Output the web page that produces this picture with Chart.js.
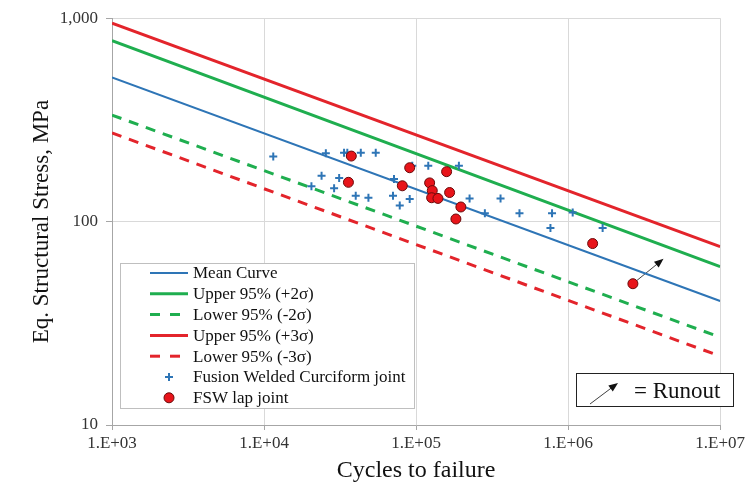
<!DOCTYPE html>
<html>
<head>
<meta charset="utf-8">
<script src="https://cdn.jsdelivr.net/npm/chart.js@4.4.0/dist/chart.umd.min.js"></script>
<style>
    html, body { margin: 0; padding: 0; background: #fff; }
</style>
</head>
<body>
<canvas id="snChart" width="748" height="487"></canvas>
<script>
// S-N data: cycles to failure vs. eq. structural stress (MPa)
var xTicks = [1e3, 1e4, 1e5, 1e6, 1e7];
var xTickLabels = ['1.E+03', '1.E+04', '1.E+05', '1.E+06', '1.E+07'];
var yTicks = [10, 100, 1000];
var yTickLabels = ['10', '100', '1,000'];

// design curves, values at N = 1E3 and N = 1E7
var curveCycles = [1e3, 1e7];
var meanCurve = [512, 40.7];
var upper2s = [775, 60.1];
var lower2s = [334, 27.0];
var upper3s = [945, 75.4];
var lower3s = [273, 21.8];

// Fusion welded cruciform joint
var fusionCycles = [11500, 20500, 23900, 25500, 28900, 31200, 33600, 35300, 40100, 43300,
    48600, 54300, 70500, 71600, 78100, 90800, 94400, 120300, 191300, 224900,
    283500, 359400, 478800, 765200, 784000, 1072000, 1687000];
var fusionStress = [209, 149, 168, 217, 146, 164, 218, 218, 134, 218,
    131, 218, 134, 162, 120, 129, 188, 188, 188, 130,
    110, 130, 110, 93, 110, 111, 93];

// FSW lap joint
var fswCycles = [37500, 35900, 90800, 81200, 122800, 127800, 126600, 139300, 158800, 166200,
    197100, 182800, 1450000, 2668000];
var fswStress = [210, 156, 184, 150, 155, 142, 131, 130, 176, 139,
    118, 103, 78, 49.5];

// runout arrow on the last FSW point
var runoutFrom = [2668000, 49.5];
var runoutTo = [4243000, 65.6];

var BLUE = '#2e75b6';
var GREEN = '#1fae4f';
var RED = '#e3242b';
var SERIF = "'Liberation Serif', 'Times New Roman', serif";

function pts(xs, ys) {
    return xs.map(function (x, i) { return {x: x, y: ys[i]}; });
}

function curve(label, values, color, width, dash) {
    return {
        label: label,
        data: pts(curveCycles, values),
        showLine: true,
        borderColor: color,
        backgroundColor: color,
        borderWidth: width,
        borderDash: dash || [],
        pointRadius: 0,
        order: 2
    };
}

function drawArrow(ctx, x1, y1, x2, y2, head) {
    var a = Math.atan2(y2 - y1, x2 - x1);
    ctx.beginPath();
    ctx.moveTo(x1, y1);
    ctx.lineTo(x2 - head * 0.7 * Math.cos(a), y2 - head * 0.7 * Math.sin(a));
    ctx.stroke();
    ctx.beginPath();
    ctx.moveTo(x2, y2);
    ctx.lineTo(x2 - head * Math.cos(a - 0.38), y2 - head * Math.sin(a - 0.38));
    ctx.lineTo(x2 - head * Math.cos(a + 0.38), y2 - head * Math.sin(a + 0.38));
    ctx.closePath();
    ctx.fill();
}

var extras = {
    id: 'extras',
    beforeDraw: function (chart) {
        var ctx = chart.ctx;
        ctx.save();
        ctx.fillStyle = '#fff';
        ctx.fillRect(0, 0, chart.width, chart.height);
        ctx.restore();
    },
    beforeDatasetsDraw: function (chart) {
        // runout arrow, under the marker
        var ctx = chart.ctx, xs = chart.scales.x, ys = chart.scales.y;
        ctx.save();
        ctx.strokeStyle = '#404040';
        ctx.fillStyle = '#111';
        ctx.lineWidth = 1;
        drawArrow(ctx, xs.getPixelForValue(runoutFrom[0]), ys.getPixelForValue(runoutFrom[1]),
            xs.getPixelForValue(runoutTo[0]), ys.getPixelForValue(runoutTo[1]), 10);
        ctx.restore();
    },
    afterDraw: function (chart) {
        var ctx = chart.ctx;
        var ds = chart.data.datasets;
        ctx.save();

        // legend box
        ctx.fillStyle = '#fff';
        ctx.fillRect(120, 263, 294, 145);
        ctx.strokeStyle = '#bfbfbf';
        ctx.lineWidth = 1;
        ctx.strokeRect(120.5, 263.5, 294, 145);

        ctx.font = '17px ' + SERIF;
        ctx.textBaseline = 'middle';
        ctx.textAlign = 'left';
        ds.forEach(function (d, i) {
            var y = 273 + i * 20.8;
            if (d.showLine) {
                ctx.strokeStyle = d.borderColor;
                ctx.lineWidth = d.borderWidth;
                ctx.setLineDash(d.borderDash.length ? [10, 10] : []);
                ctx.beginPath();
                ctx.moveTo(150, y);
                ctx.lineTo(d.borderDash.length ? 180 : 188, y);
                ctx.stroke();
                ctx.setLineDash([]);
            } else if (d.pointStyle === 'cross') {
                ctx.strokeStyle = d.borderColor;
                ctx.lineWidth = 2;
                ctx.beginPath();
                ctx.moveTo(165, y); ctx.lineTo(173, y);
                ctx.moveTo(169, y - 4); ctx.lineTo(169, y + 4);
                ctx.stroke();
            } else {
                ctx.fillStyle = d.backgroundColor;
                ctx.strokeStyle = d.borderColor;
                ctx.lineWidth = 1;
                ctx.beginPath();
                ctx.arc(169, y, 5, 0, Math.PI * 2);
                ctx.fill();
                ctx.stroke();
            }
            ctx.fillStyle = '#111';
            ctx.fillText(d.label, 193, y + 1);
        });

        // runout key
        ctx.fillStyle = '#fff';
        ctx.fillRect(576, 373, 158, 34);
        ctx.strokeStyle = '#222';
        ctx.lineWidth = 1;
        ctx.strokeRect(576.5, 373.5, 157, 33);
        ctx.strokeStyle = '#404040';
        ctx.fillStyle = '#111';
        drawArrow(ctx, 590, 404, 618, 383, 10);
        ctx.font = '23px ' + SERIF;
        ctx.fillStyle = '#111';
        ctx.fillText('= Runout', 634, 392);
        ctx.restore();
    }
};

var snChart = new Chart(document.getElementById('snChart'), {
    type: 'scatter',
    data: {
        datasets: [
            curve('Mean Curve', meanCurve, BLUE, 2),
            curve('Upper 95% (+2\u03c3)', upper2s, GREEN, 3),
            curve('Lower 95% (-2\u03c3)', lower2s, GREEN, 3, [10, 8]),
            curve('Upper 95% (+3\u03c3)', upper3s, RED, 3),
            curve('Lower 95% (-3\u03c3)', lower3s, RED, 3, [10, 8]),
            {
                label: 'Fusion Welded Curciform joint',
                data: pts(fusionCycles, fusionStress),
                pointStyle: 'cross',
                pointRadius: 4,
                borderWidth: 2,
                borderColor: BLUE,
                backgroundColor: BLUE,
                order: 1
            },
            {
                label: 'FSW lap joint',
                data: pts(fswCycles, fswStress),
                pointStyle: 'circle',
                pointRadius: 5,
                borderWidth: 1,
                borderColor: '#6a0a0a',
                backgroundColor: '#e8141a',
                order: 0
            }
        ]
    },
    options: {
        responsive: false,
        animation: false,
        devicePixelRatio: 1,
        layout: { padding: { top: 17, right: 26, left: 0, bottom: 0 } },
        plugins: {
            legend: { display: false },
            tooltip: { enabled: false }
        },
        scales: {
            x: {
                type: 'logarithmic',
                min: 1e3,
                max: 1e7,
                afterBuildTicks: function (scale) {
                    scale.ticks = xTicks.map(function (v) { return {value: v}; });
                },
                afterFit: function (scale) { scale.height = 62; },
                ticks: {
                    autoSkip: false,
                    maxRotation: 0,
                    padding: 3,
                    color: '#333',
                    font: { family: SERIF, size: 17 },
                    callback: function (v) { return xTickLabels[xTicks.indexOf(v)]; }
                },
                grid: { color: '#d9d9d9', tickLength: 5, tickColor: '#a6a6a6' },
                border: { color: '#a6a6a6' },
                title: {
                    display: true,
                    text: 'Cycles to failure',
                    color: '#111',
                    font: { family: SERIF, size: 24 },
                    padding: { top: 0, bottom: 2 }
                }
            },
            y: {
                type: 'logarithmic',
                min: 10,
                max: 1000,
                afterBuildTicks: function (scale) {
                    scale.ticks = yTicks.map(function (v) { return {value: v}; });
                },
                afterFit: function (scale) { scale.width = 112; },
                ticks: {
                    autoSkip: false,
                    padding: 8,
                    color: '#333',
                    font: { family: SERIF, size: 17 },
                    callback: function (v) { return yTickLabels[yTicks.indexOf(v)]; }
                },
                grid: { color: '#d9d9d9', tickLength: 6, tickColor: '#a6a6a6' },
                border: { color: '#a6a6a6' },
                title: {
                    display: true,
                    text: 'Eq. Structural Stress, MPa',
                    color: '#111',
                    font: { family: SERIF, size: 23 },
                    padding: { top: 28, bottom: 0 }
                }
            }
        }
    },
    plugins: [extras]
});
</script>
</body>
</html>
